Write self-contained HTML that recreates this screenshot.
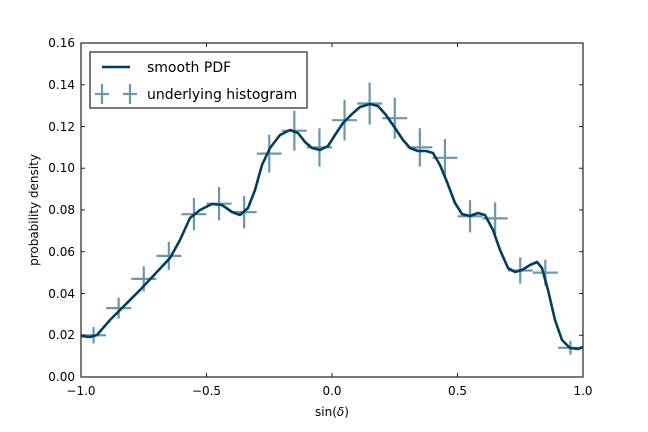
<!DOCTYPE html>
<html><head><style>body{margin:0;background:#fff}svg{display:block}text{font-family:"DejaVu Sans","Liberation Sans",sans-serif;font-size:12px;fill:#000}</style></head>
<body>
<svg width="648" height="432" viewBox="0 0 648 432">
<rect width="648" height="432" fill="#fff"/>
<path fill="none" stroke="#6c97ab" stroke-width="2.2" d="
M81.05 335.25h25 M93.55 327.05v16.4
M106.15 308.1h25 M118.65 297.6v21
M131.25 278.9h25 M143.75 266.3v25.2
M156.35 255.9h25 M168.85 241.9v28
M181.45 214.2h25 M193.95 198v32.4
M206.55 203.7h25 M219.05 187v33.4
M231.65 212.1h25 M244.15 195.8v32.6
M256.75 153.6h25 M269.25 134.6v38
M281.85 130.7h25 M294.35 110.8v39.8
M306.95 147.4h25 M319.45 128.2v38.4
M332.05 120.2h25 M344.55 99.9v40.6
M357.15 103.5h25 M369.65 82.5v42
M382.25 118.2h25 M394.75 97.8v40.8
M407.35 147.4h25 M419.85 128.2v38.4
M432.45 157.8h25 M444.95 139v37.6
M457.55 216.3h25 M470.05 200.2v32.2
M482.65 218.4h25 M495.15 202.4v32
M507.75 270.5h25 M520.25 257.4v26.2
M532.85 272.6h25 M545.35 259.6v26
M557.95 347.8h25 M570.45 340.9v13.8"/>
<polyline fill="none" stroke="#053d5c" stroke-width="2.6" stroke-linejoin="round" points="81,336 90,337 97,335 110,320 125,305 140,290 155,274 170,258 180,240 190,218 200,210 212,204 222,205 232,212 240,215 248,208 255,190 262,165 270,148 280,135 290,130 298,133 305,142 312,148 320,150 328,146 335,135 343,123 352,114 360,107 370,104 378,106 386,115 395,128 403,140 410,148 418,151 426,151 433,153 440,165 447,182 455,203 462,214 470,216 478,213 485,215 493,230 500,250 508,268 515,272 522,270 530,265 537,262 542,268 548,290 555,320 562,340 570,348 578,349 583,347"/>
<rect x="81" y="43" width="502" height="334" fill="none" stroke="#222" stroke-width="1.2"/>
<g stroke="#222" stroke-width="1">
<line x1="206.5" y1="377" x2="206.5" y2="373"/><line x1="332" y1="377" x2="332" y2="373"/><line x1="457.5" y1="377" x2="457.5" y2="373"/>
<line x1="206.5" y1="43" x2="206.5" y2="47"/><line x1="332" y1="43" x2="332" y2="47"/><line x1="457.5" y1="43" x2="457.5" y2="47"/>
<line x1="81" y1="335.25" x2="85" y2="335.25"/><line x1="81" y1="293.5" x2="85" y2="293.5"/><line x1="81" y1="251.75" x2="85" y2="251.75"/><line x1="81" y1="210" x2="85" y2="210"/><line x1="81" y1="168.25" x2="85" y2="168.25"/><line x1="81" y1="126.5" x2="85" y2="126.5"/><line x1="81" y1="84.75" x2="85" y2="84.75"/>
<line x1="583" y1="335.25" x2="579" y2="335.25"/><line x1="583" y1="293.5" x2="579" y2="293.5"/><line x1="583" y1="251.75" x2="579" y2="251.75"/><line x1="583" y1="210" x2="579" y2="210"/><line x1="583" y1="168.25" x2="579" y2="168.25"/><line x1="583" y1="126.5" x2="579" y2="126.5"/><line x1="583" y1="84.75" x2="579" y2="84.75"/>
</g>
<g text-anchor="end">
<text x="75" y="381">0.00</text><text x="75" y="339">0.02</text><text x="75" y="298">0.04</text><text x="75" y="256">0.06</text><text x="75" y="214">0.08</text><text x="75" y="172">0.10</text><text x="75" y="131">0.12</text><text x="75" y="89">0.14</text><text x="75" y="47">0.16</text>
</g>
<g text-anchor="middle">
<text x="81" y="395">−1.0</text><text x="206.5" y="395">−0.5</text><text x="332" y="395">0.0</text><text x="457.5" y="395">0.5</text><text x="583" y="395">1.0</text>
<text x="332" y="416">sin(<tspan font-style="italic">δ</tspan>)</text>
<text transform="translate(38,210) rotate(-90)">probability density</text>
</g>
<rect x="90" y="52" width="217" height="56" fill="#fff" stroke="#222" stroke-width="1.2"/>
<line x1="102" y1="67" x2="130" y2="67" stroke="#053d5c" stroke-width="2.6"/>
<g stroke="#6c97ab" stroke-width="2.2"><line x1="95" y1="94" x2="109" y2="94"/><line x1="102" y1="84" x2="102" y2="104"/><line x1="123" y1="94" x2="137" y2="94"/><line x1="130" y1="84" x2="130" y2="104"/></g>
<text x="147" y="72" style="font-size:14px">smooth PDF</text>
<text x="147" y="99" style="font-size:14px">underlying histogram</text>
</svg>
</body></html>
